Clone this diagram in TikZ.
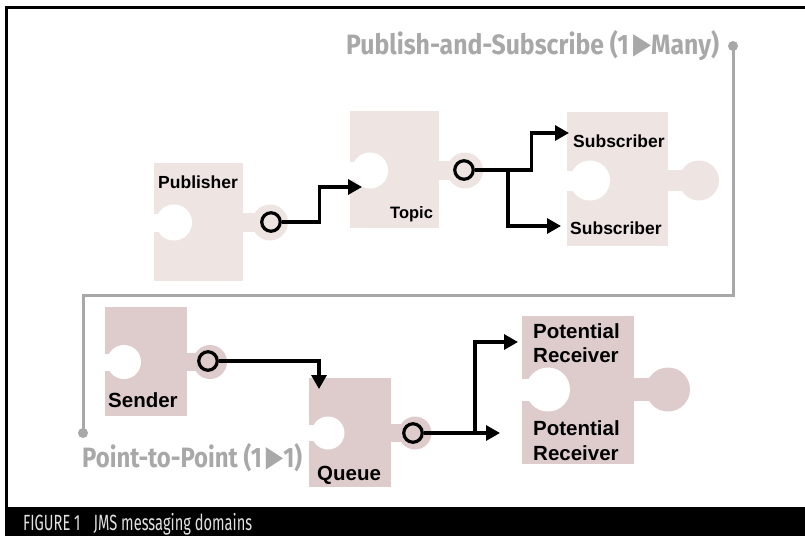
\documentclass[tikz,border=0pt]{standalone}
\usepackage{fontspec}
\usepackage{graphicx}
\setmainfont{Liberation Sans}
\newfontfamily\headfont{Fira Sans}
\newfontfamily\glyphfont{DejaVu Sans}
\usetikzlibrary{arrows.meta}

\definecolor{pieceA}{RGB}{238,229,227}
\definecolor{pieceB}{RGB}{221,204,203}
\definecolor{routegray}{RGB}{168,168,168}
\definecolor{captiongray}{RGB}{225,225,225}

% puzzle piece: x1 y1 x2 y2, notch centre x, knob centre x, centre y, radius, colour
\newcommand\puzzlepiece[9]{%
  \fill[#9] (#1,#2) rectangle (#3,#4);
  \fill[#9] ({#3-1},{#7-0.52*#8}) rectangle (#6,{#7+0.52*#8});
  \fill[#9] (#6,#7) circle (#8pt);
  \fill[white] ({#1-1},{#7-0.5*#8}) rectangle (#5,{#7+0.5*#8});
  \fill[white] (#5,#7) circle (#8pt);
}
% the "one to ..." triangle between the counts
\newcommand\totri{{\glyphfont\raisebox{0.5pt}{\scalebox{0.95}[1.05]{▶}}}}

\tikzset{
  lbl/.style={anchor=base west, inner sep=0pt, text=black},
  lblA/.style={lbl, font=\fontsize{17.5}{20}\selectfont\bfseries},
  lblT/.style={lbl, font=\fontsize{16.5}{20}\selectfont\bfseries},
  lblB/.style={lbl, font=\fontsize{20.5}{24}\selectfont\bfseries},
  socket/.style={circle, draw=black, line width=3.2pt, minimum size=18.5pt, inner sep=0pt},
  conn/.style={line width=3.2pt, -{Triangle[length=14pt,width=15pt]}},
  route/.style={draw=routegray, line width=3pt},
  routedot/.style={circle, fill=routegray, minimum size=10pt, inner sep=0pt},
  domaintext/.style={anchor=base west, inner sep=0pt, text=routegray,
    font=\fontsize{28}{30}\selectfont\headfont\bfseries},
}

\begin{document}
\begin{tikzpicture}[x=1pt,y=-1pt]
\useasboundingbox (0,0) rectangle (805,536);

% frame and caption bar
\fill[black] (5,507) rectangle (805,536);
\draw[line width=3pt] (805,7.5) -- (6,7.5) -- (6,507);
\node[anchor=base west, inner sep=0pt, text=captiongray,
      font=\fontsize{22}{24}\selectfont\headfont] (caption) at (23,530.5)
  {\resizebox{229pt}{\height}{FIGURE 1\hspace{0.9em}JMS messaging domains}};

% domain route
\node[routedot] (pubdot) at (733,46) {};
\node[routedot] (p2pdot) at (83,433) {};
\draw[route] (pubdot.center) -- (733,295) -- (83,295) -- (p2pdot.center);
\node[domaintext] (pubsubtext) at (346,54)
  {\resizebox{373pt}{\height}{Publish-and-Subscribe (1\,\totri Many)}};
\node[domaintext] (p2ptext) at (82,467)
  {\resizebox{220pt}{\height}{Point-to-Point (1\,\totri 1)}};

% publish-and-subscribe pieces
\puzzlepiece{154}{163}{243}{281}{174}{270}{222.5}{18}{pieceA}
\puzzlepiece{350}{111}{439}{228}{370}{465}{170.5}{18}{pieceA}
\puzzlepiece{567}{112}{668}{246}{590}{699}{180.5}{20}{pieceA}

% point-to-point pieces
\puzzlepiece{105}{307}{187}{416}{124}{210}{362}{17}{pieceB}
\puzzlepiece{309}{378}{391}{487}{328}{415}{433}{16.5}{pieceB}
\puzzlepiece{522}{316}{634}{464}{548}{668}{389.5}{22}{pieceB}

% labels
\node[lblA] (publisher) at (158,188) {Publisher};
\node[lblT] (topic) at (390,218) {Topic};
\node[lblA] (subscriberA) at (573,147) {Subscriber};
\node[lblA] (subscriberB) at (570,234) {Subscriber};
\node[lblB] (sender) at (108,407) {Sender};
\node[lblB] (queue) at (317,480) {Queue};
\node[lblB] (potA) at (533,338) {Potential};
\node[lblB] (recA) at (533,362) {Receiver};
\node[lblB] (potB) at (533,435) {Potential};
\node[lblB] (recB) at (533,460) {Receiver};

% sockets
\node[socket] (pubsock) at (271,222) {};
\node[socket] (topsock) at (464,170) {};
\node[socket] (sendsock) at (208,361) {};
\node[socket] (queuesock) at (413,433) {};

% arrow targets and branch points
\coordinate (topicin) at (362,187);
\coordinate (subAin) at (569,133);
\coordinate (subBin) at (561,226);
\coordinate (topsplit) at (508,170);
\coordinate (queuein) at (319,389);
\coordinate (recAin) at (518,342);
\coordinate (recBin) at (500,433);
\coordinate (queuesplit) at (475,433);

% connectors
\draw[conn] (pubsock.east) -- ++(38,0) |- (topicin);
\draw[conn] (topsock.east) -- ++(57,0) |- (subAin);
\draw[conn] (topsplit) |- (subBin);
\draw[conn] (sendsock.east) -| (queuein);
\draw[conn] (queuesock.east) -- (recBin);
\draw[conn] (queuesplit) |- (recAin);
\end{tikzpicture}
\end{document}
